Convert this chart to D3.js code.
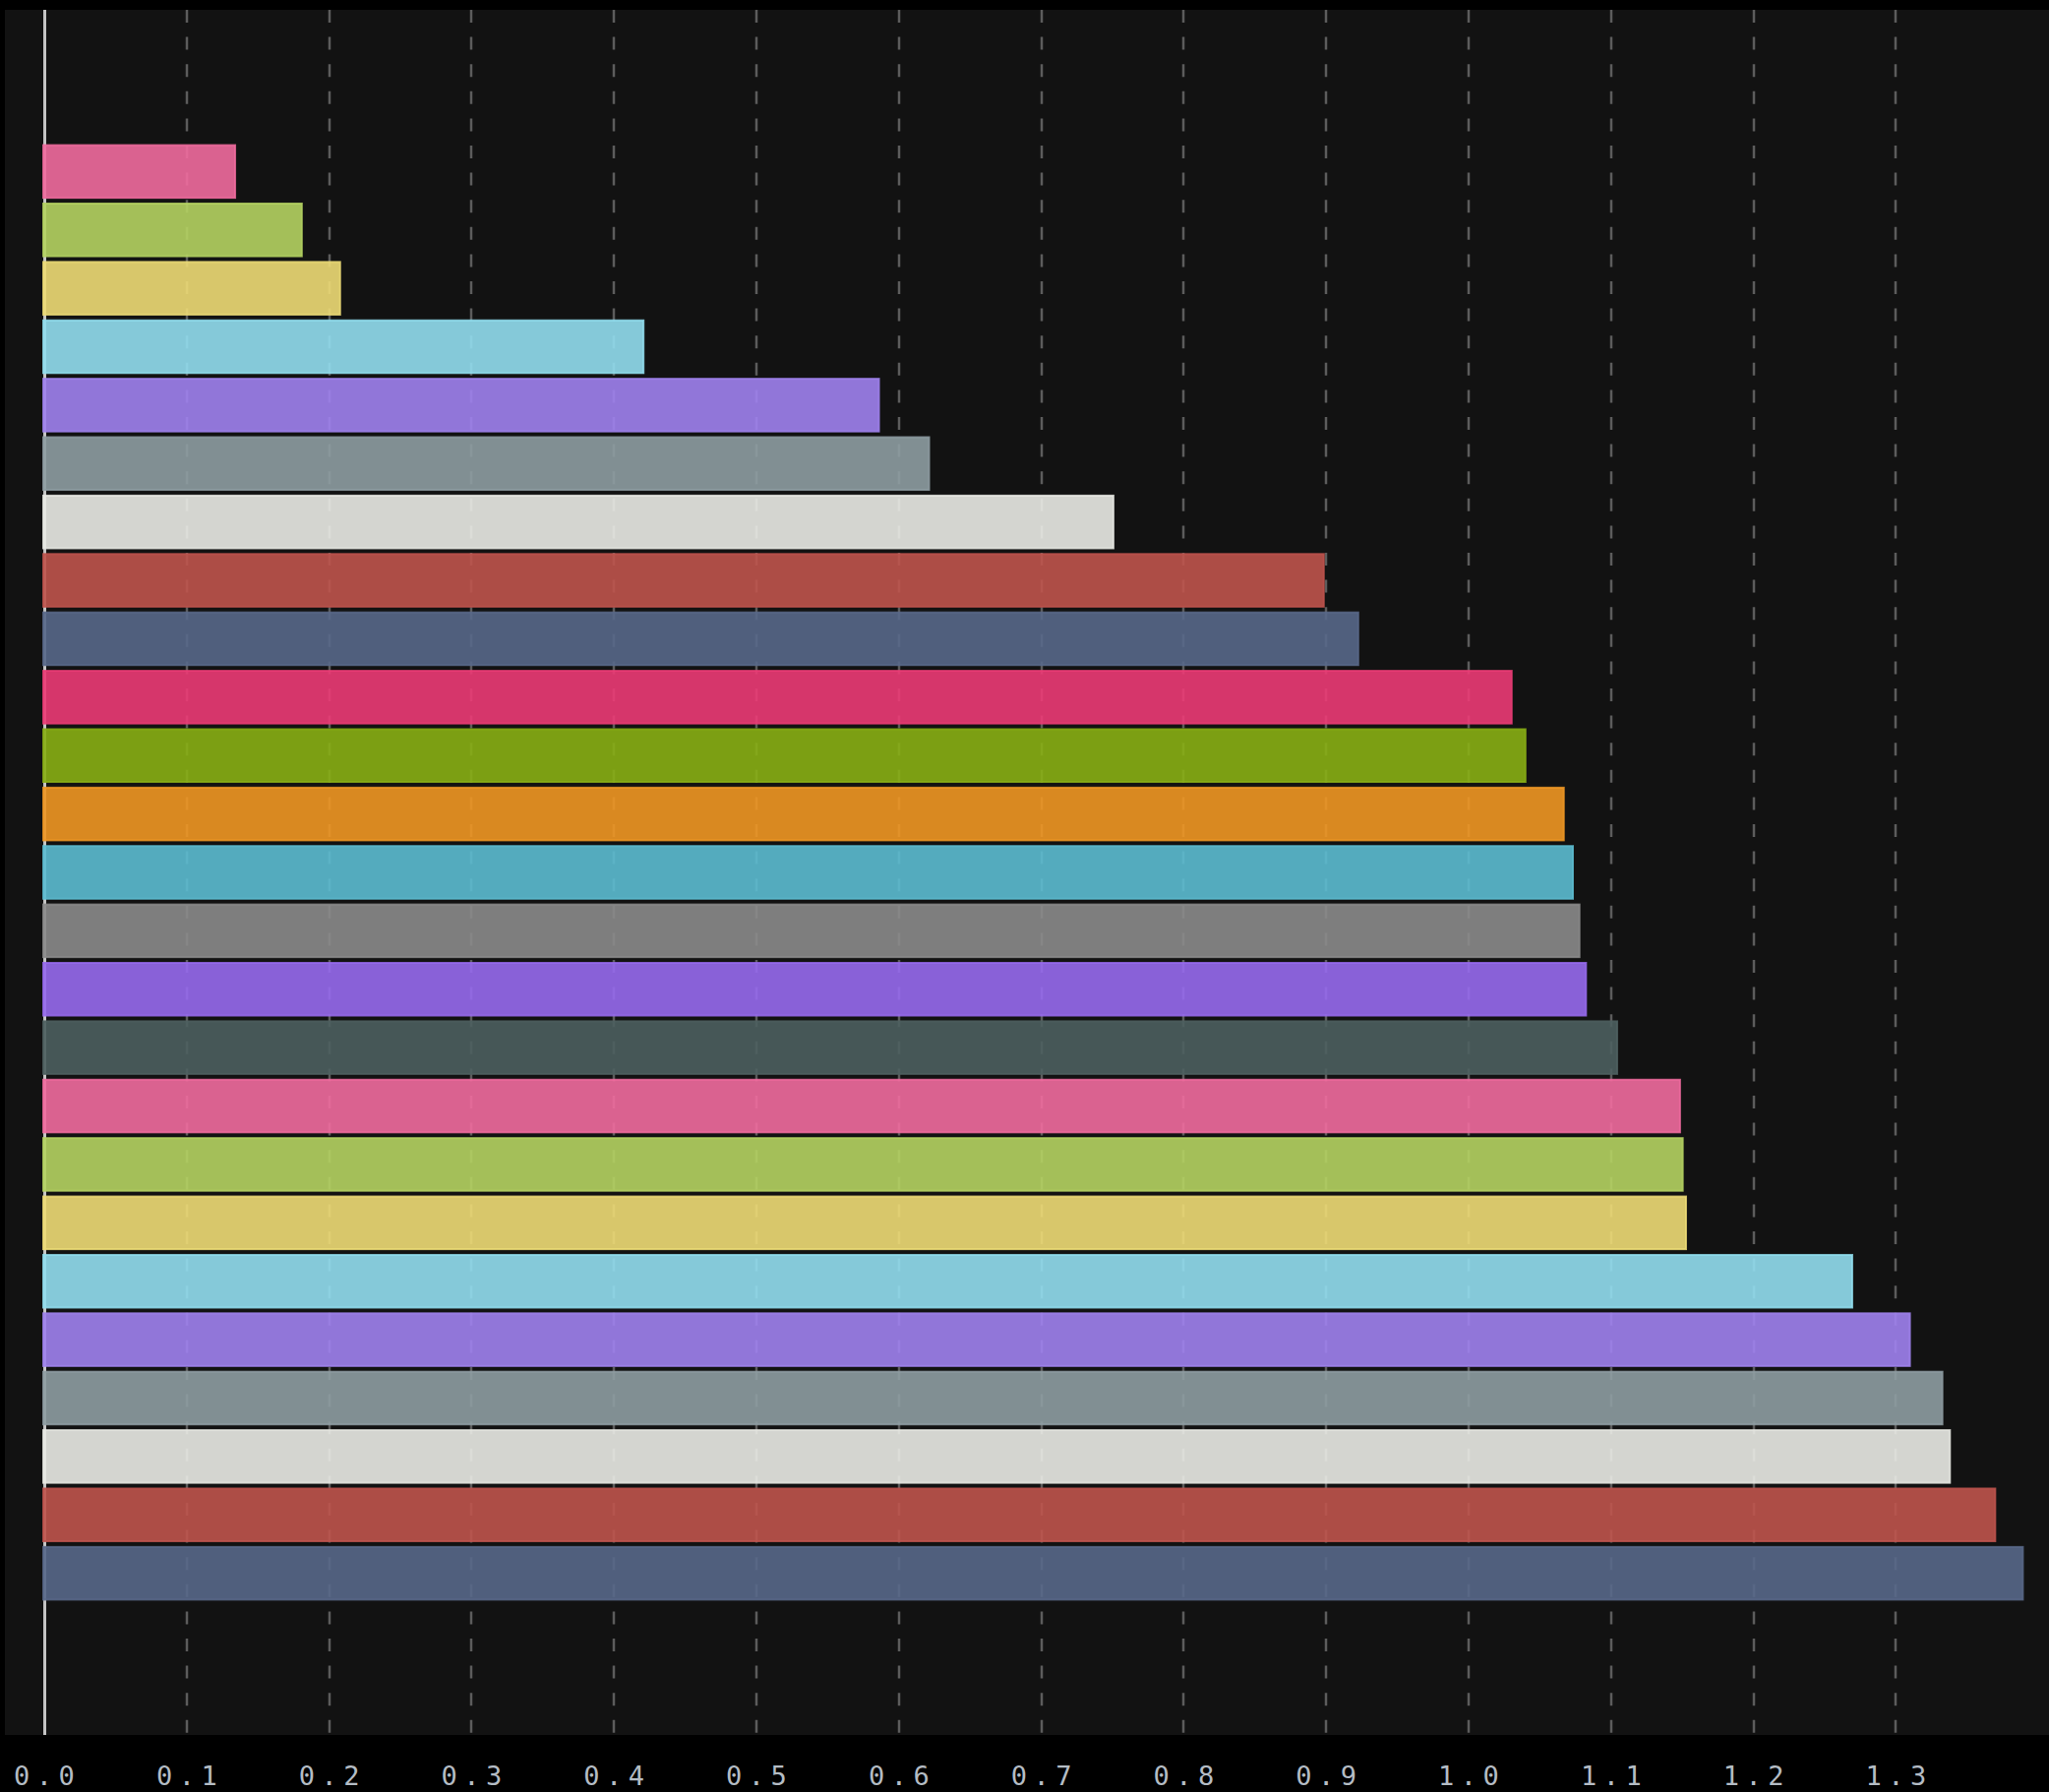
<!DOCTYPE html>
<html>
<head>
<meta charset="utf-8">
<script src="https://cdn.jsdelivr.net/npm/d3@7"></script>
<style>
  html, body { margin: 0; padding: 0; background: #000; }
  svg { display: block; }
</style>
</head>
<body>
<script>
// ---- data ----
const categories = ["b01","b02","b03","b04","b05","b06","b07","b08","b09","b10","b11","b12","b13",
                    "b14","b15","b16","b17","b18","b19","b20","b21","b22","b23","b24","b25"];
const values = [0.1347, 0.1815, 0.2084, 0.4214, 0.5867, 0.6219, 0.7513, 0.8990, 0.9232, 1.0309,
                1.0406, 1.0675, 1.0739, 1.0785, 1.0831, 1.1050, 1.1491, 1.1510, 1.1533, 1.2700,
                1.3105, 1.3333, 1.3386, 1.3704, 1.3898];
const tickValues = [0.0, 0.1, 0.2, 0.3, 0.4, 0.5, 0.6, 0.7, 0.8, 0.9, 1.0, 1.1, 1.2, 1.3];
const tickLabels = ["0.0","0.1","0.2","0.3","0.4","0.5","0.6","0.7","0.8","0.9","1.0","1.1","1.2","1.3"];
const palette = ["#db6290","#a5c05a","#d8c86b","#85cad9","#9277d9","#828f94","#d4d5d0","#ae4d47",
                 "#515f7d","#d6376c","#7c9f14","#d98a21","#55acbe","#7f7f7f","#8a61d8","#475757"];

// ---- layout ----
const W = 2083, H = 1822;
const plot = { left: 5, top: 10, right: 2083, bottom: 1764 };
const x0 = 45, pxPerUnit = 1448;

const svg = d3.select("body").append("svg").attr("width", W).attr("height", H);
svg.append("rect").attr("x", 0).attr("y", 0).attr("width", W).attr("height", H).attr("fill", "#000");
svg.append("rect").attr("x", plot.left).attr("y", plot.top)
   .attr("width", plot.right - plot.left).attr("height", plot.bottom - plot.top).attr("fill", "#121212");

const xMax = d3.max(values);
const x = d3.scaleLinear().domain([0, xMax]).range([x0, x0 + xMax * pxPerUnit]);
const y = d3.scaleBand().domain(categories).range([plot.top, plot.bottom])
            .paddingInner(0.065).paddingOuter(2.3);

// gridlines (dashed)
svg.append("g").selectAll("line").data(tickValues.filter(d => d > 0)).join("line")
   .attr("x1", d => Math.round(x(d))).attr("x2", d => Math.round(x(d)))
   .attr("y1", plot.top).attr("y2", plot.bottom)
   .attr("stroke", "#5c5c5c").attr("stroke-width", 2.5)
   .attr("stroke-dasharray", "13,14.6");

// zero line
svg.append("line").attr("x1", x(0) + 0.5).attr("x2", x(0) + 0.5).attr("y1", plot.top).attr("y2", plot.bottom)
   .attr("stroke", "#c4c4c4").attr("stroke-width", 3);

// bars
const a = 0.9, bgv = 18;
function baseColor(c) {
  const o = d3.rgb(c);
  return d3.rgb(Math.min(255, (o.r - (1 - a) * bgv) / a),
                Math.min(255, (o.g - (1 - a) * bgv) / a),
                Math.min(255, (o.b - (1 - a) * bgv) / a));
}
svg.append("g").selectAll("rect").data(values).join("rect")
   .attr("x", x(0) - 1)
   .attr("y", (d, i) => y(categories[i]) + 1)
   .attr("width", d => x(d) - x(0))
   .attr("height", y.bandwidth() - 2)
   .attr("fill", (d, i) => baseColor(palette[i % palette.length]).formatHex())
   .attr("fill-opacity", a)
   .attr("stroke", (d, i) => d3.rgb(palette[i % palette.length]).brighter(0.25).formatHex())
   .attr("stroke-opacity", 0.85)
   .attr("stroke-width", 2);

// axis labels
const ls = 6.5;
svg.append("g").selectAll("text").data(tickValues).join("text")
   .attr("x", d => x(d) + ls / 2)
   .attr("y", 1815)
   .attr("text-anchor", "middle")
   .attr("font-family", "'DejaVu Sans Mono', monospace")
   .attr("font-size", 27)
   .attr("letter-spacing", ls)
   .attr("fill", "#b4bcc4")
   .text((d, i) => tickLabels[i]);
</script>
</body>
</html>
